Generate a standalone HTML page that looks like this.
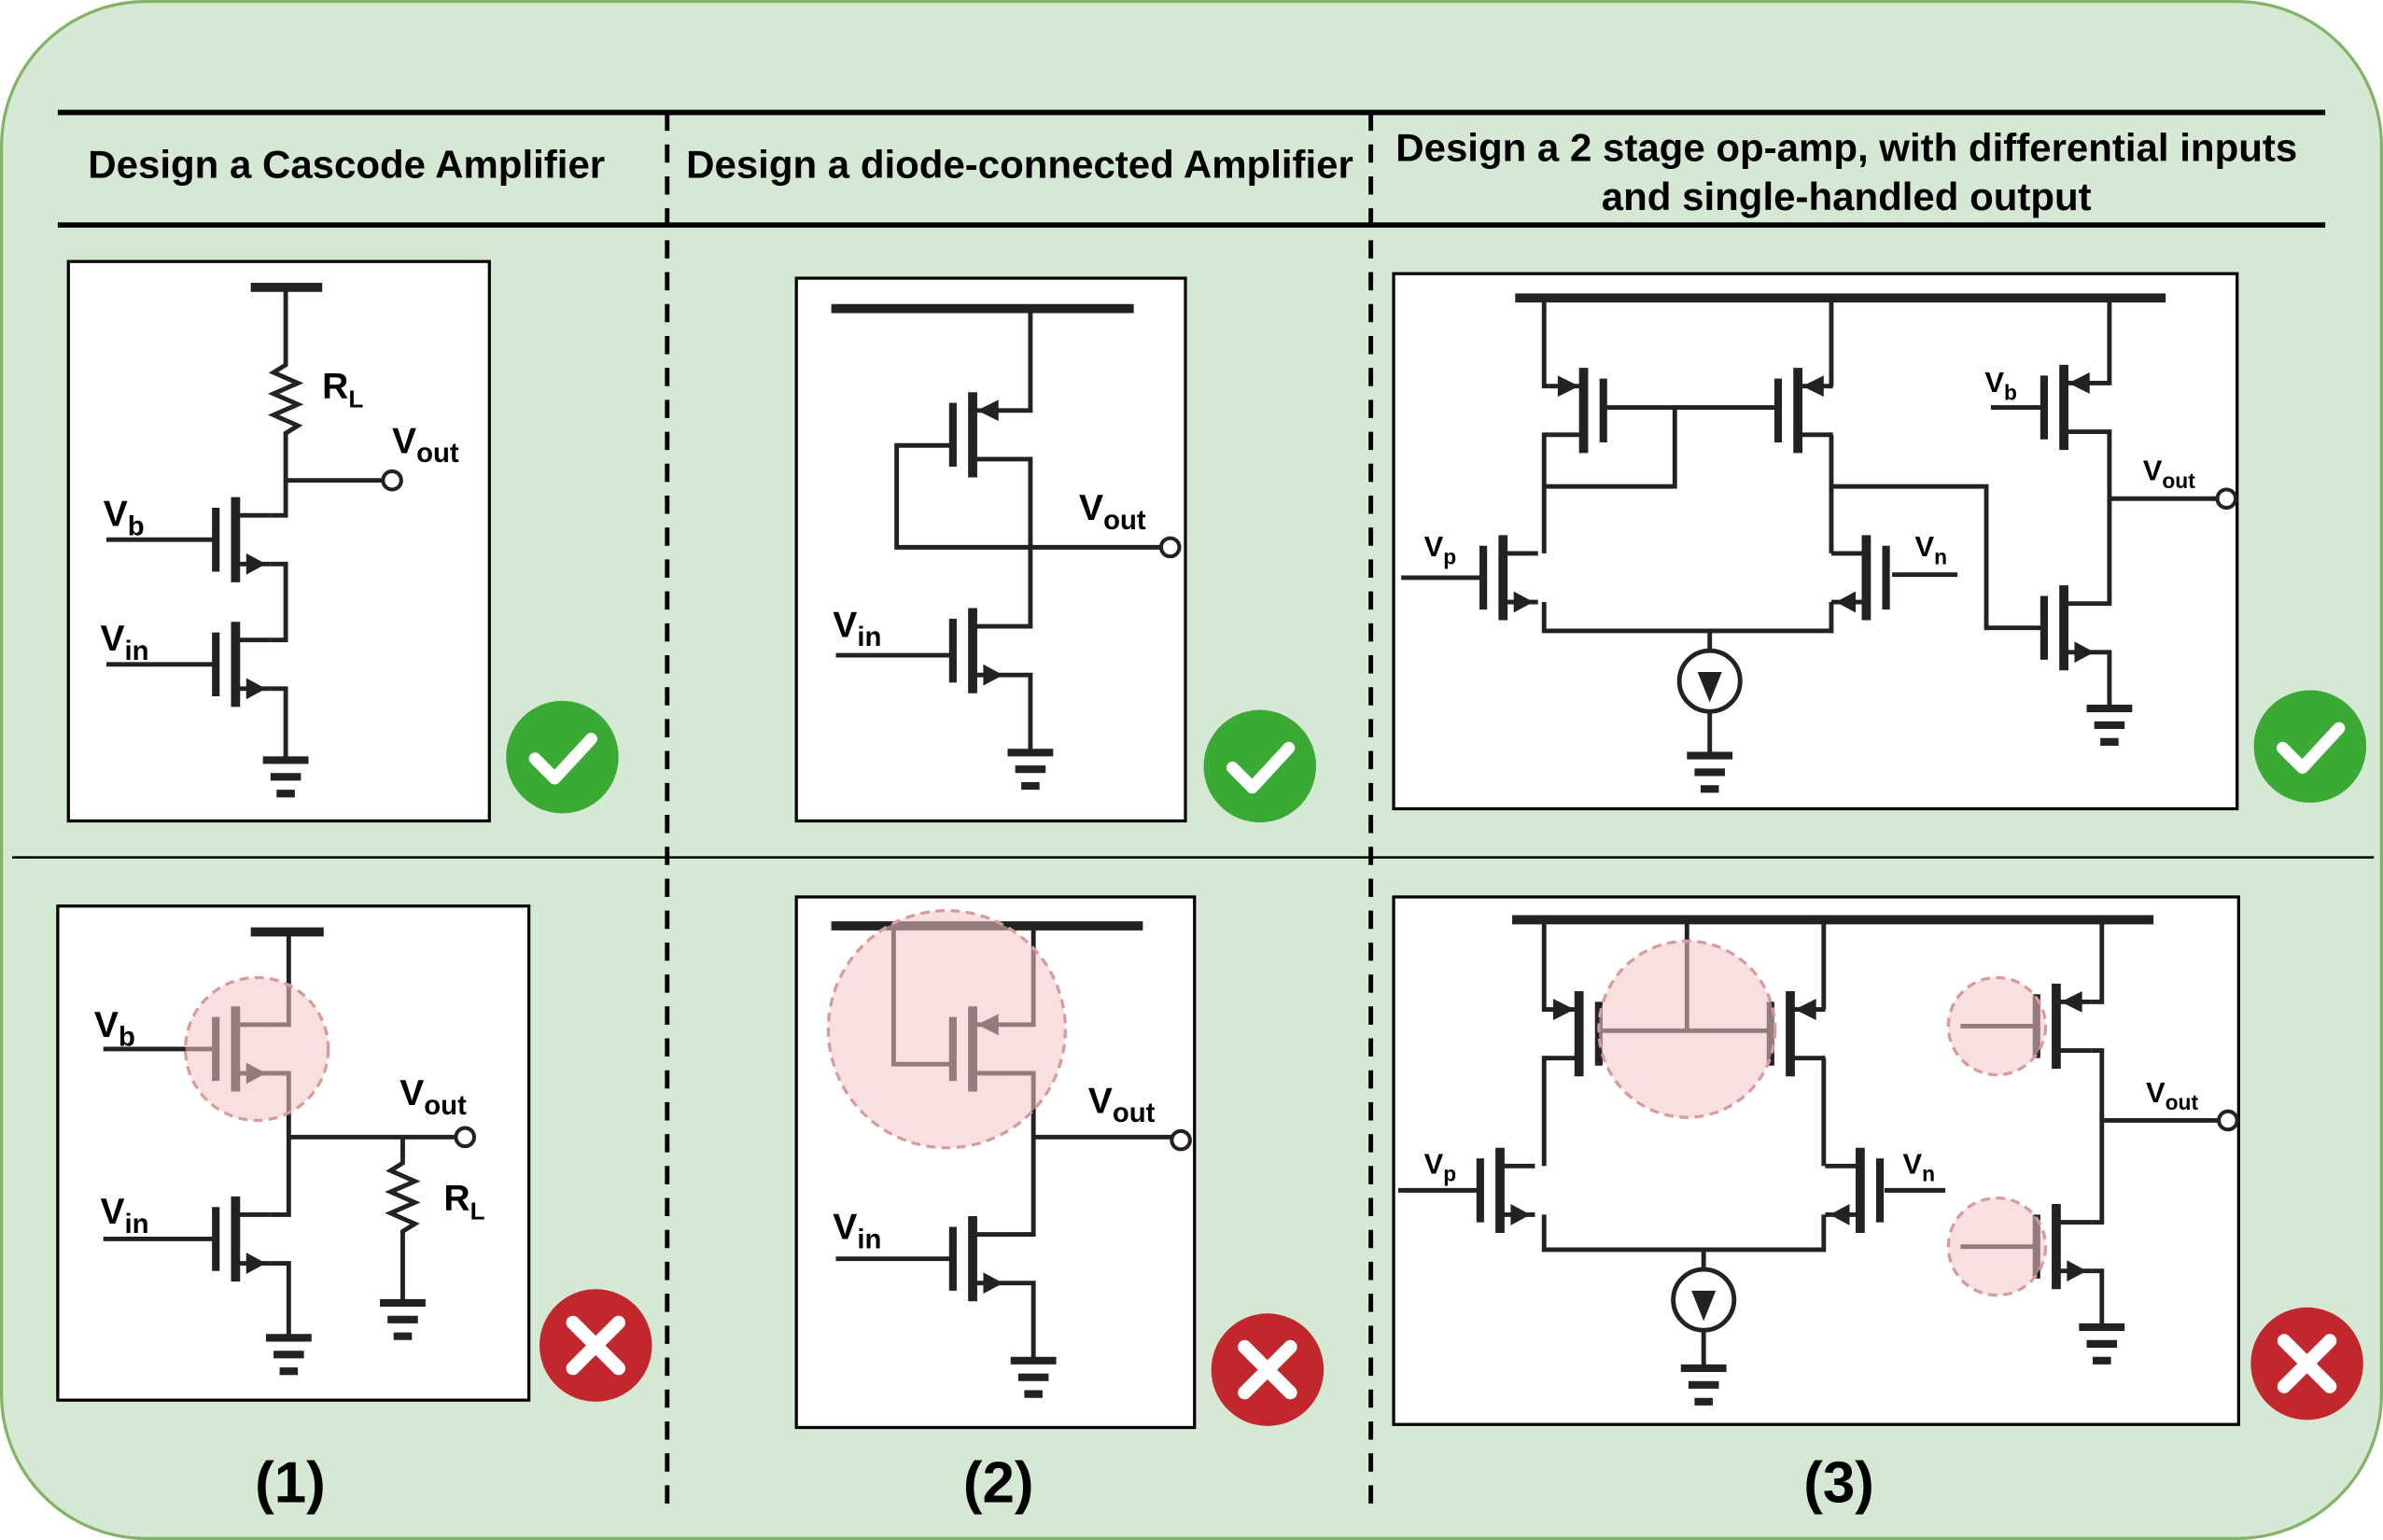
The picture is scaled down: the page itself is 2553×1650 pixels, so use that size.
<!DOCTYPE html>
<html><head><meta charset="utf-8"><style>
html,body{margin:0;padding:0;background:#fff}
svg{display:block}
text{font-family:"Liberation Sans",sans-serif;fill:#000}
</style></head><body>
<svg width="2553" height="1650" viewBox="0 0 1568 1013" preserveAspectRatio="none" xmlns="http://www.w3.org/2000/svg">
<defs>
<g id="nm">
<line x1="0" y1="-21" x2="0" y2="21" stroke="#222" stroke-width="5"/>
<line x1="13" y1="-28" x2="13" y2="28" stroke="#222" stroke-width="6"/>
<polyline points="13,-16 36,-16" fill="none" stroke="#222" stroke-width="3"/>
<polyline points="13,16 36,16" fill="none" stroke="#222" stroke-width="3"/>
<polygon points="20,9 33,16 20,23" fill="#222"/>
</g>
<g id="pm">
<line x1="0" y1="-21" x2="0" y2="21" stroke="#222" stroke-width="5"/>
<line x1="13" y1="-28" x2="13" y2="28" stroke="#222" stroke-width="6"/>
<polyline points="13,-16 36,-16" fill="none" stroke="#222" stroke-width="3"/>
<polyline points="13,16 36,16" fill="none" stroke="#222" stroke-width="3"/>
<polygon points="30,-23 16,-16 30,-9" fill="#222"/>
</g>
<g id="gnd" stroke="#222" stroke-width="5">
<line x1="-15" y1="0" x2="15" y2="0"/><line x1="-10" y1="11" x2="10" y2="11"/><line x1="-6" y1="22" x2="6" y2="22"/>
</g>
<g id="ok"><circle r="37" fill="#3aaa35"/><polyline points="-18,1 -5,14 19,-12" fill="none" stroke="#fff" stroke-width="8" stroke-linecap="round" stroke-linejoin="round"/></g>
<g id="no"><circle r="37" fill="#c1272d"/><g stroke="#fff" stroke-width="9" stroke-linecap="round"><line x1="-15" y1="-15" x2="15" y2="15"/><line x1="15" y1="-15" x2="-15" y2="15"/></g></g>
</defs>
<rect x="1" y="1" width="1566" height="1011" rx="95" fill="#d5e8d4" stroke="#82b366" stroke-width="2"/>
<g stroke="#000" stroke-width="3.5"><line x1="38" y1="74" x2="1530" y2="74"/><line x1="38" y1="148" x2="1530" y2="148"/></g>
<line x1="8" y1="564" x2="1562" y2="564" stroke="#000" stroke-width="1.5"/>
<g stroke="#000" stroke-width="3" stroke-dasharray="12,9"><line x1="439" y1="74" x2="439" y2="990"/><line x1="902" y1="74" x2="902" y2="990"/></g>
<g font-weight="bold" font-size="25.8" text-anchor="middle">
<text x="228" y="117">Design a Cascode Amplifier</text>
<text x="671" y="117">Design a diode-connected Amplifier</text>
<text x="1215" y="106">Design a 2 stage op-amp, with differential inputs</text>
<text x="1215" y="138">and single-handled output</text>
</g>
<g font-weight="bold" font-size="38" text-anchor="middle"><text x="191" y="988">(1)</text><text x="657" y="988">(2)</text><text x="1210" y="988">(3)</text></g>
<g fill="#fff" stroke="#000" stroke-width="2">
<rect x="45" y="172" width="277" height="368"/><rect x="524" y="183" width="256" height="357"/><rect x="917" y="180" width="555" height="352"/>
<rect x="38" y="596" width="310" height="325"/><rect x="524" y="590" width="262" height="349"/><rect x="917" y="590" width="556" height="347"/>
</g>
<use href="#ok" x="370" y="498"/><use href="#ok" x="829" y="504"/><use href="#ok" x="1520" y="491"/>
<use href="#no" x="392" y="885"/><use href="#no" x="834" y="901"/><use href="#no" x="1518" y="897"/>
<g fill="none" stroke="#222" stroke-width="3">
<line x1="165" y1="189" x2="212" y2="189" stroke-width="6"/>
<polyline points="188,189 188,240 180,245 196,252 180,259 196,266 180,273 196,280 188,285 188,339 178,339"/>
<line x1="188" y1="316" x2="254" y2="316"/>
<polyline points="178,371 188,371 188,421 178,421"/>
<polyline points="178,453 188,453 188,500"/>
<line x1="70" y1="355" x2="142" y2="355"/><line x1="70" y1="437" x2="142" y2="437"/>
<line x1="165" y1="613" x2="213" y2="613" stroke-width="6"/>
<polyline points="190,613 190,674 178,674"/>
<polyline points="178,706 190,706 190,799 178,799"/>
<line x1="190" y1="748" x2="300" y2="748"/>
<polyline points="178,831 190,831 190,880"/>
<polyline points="265,748 265,765 257,770 273,777 257,784 273,791 257,798 273,805 265,810 265,857"/>
<line x1="68" y1="690" x2="142" y2="690"/><line x1="68" y1="815" x2="142" y2="815"/>
<line x1="547" y1="203" x2="746" y2="203" stroke-width="6"/>
<polyline points="678,203 678,270 663,270"/>
<polyline points="663,302 678,302 678,412 663,412"/>
<polyline points="627,293 590,293 590,360 678,360"/>
<line x1="678" y1="360" x2="764" y2="360"/>
<polyline points="663,444 678,444 678,495"/>
<line x1="550" y1="431" x2="627" y2="431"/>
<line x1="547" y1="609" x2="752" y2="609" stroke-width="6"/>
<polyline points="588,609 588,700 627,700"/>
<polyline points="680,609 680,674 663,674"/>
<polyline points="663,706 680,706 680,812 663,812"/>
<line x1="680" y1="748" x2="771" y2="748"/>
<polyline points="663,844 680,844 680,895"/>
<line x1="550" y1="828" x2="627" y2="828"/>
<line x1="997" y1="196" x2="1425" y2="196" stroke-width="6"/>
<polyline points="1016,196 1016,254 1019,254"/><polyline points="1019,286 1016,286 1016,364"/>
<polyline points="1205,196 1205,254 1206,254"/><polyline points="1206,286 1205,286 1205,364"/>
<line x1="1056" y1="268" x2="1170" y2="268"/>
<polyline points="1102,268 1102,320 1016,320"/>
<polyline points="1205,320 1307,320 1307,413 1345,413"/>
<polyline points="1388,196 1388,252 1381,252"/><polyline points="1381,284 1388,284 1388,397 1381,397"/>
<polyline points="1381,429 1388,429 1388,466"/>
<line x1="1310" y1="268" x2="1345" y2="268"/>
<line x1="1388" y1="328" x2="1459" y2="328"/>
<polyline points="1016,396 1016,415 1205,415 1205,396"/>
<line x1="922" y1="380" x2="976" y2="380"/><line x1="1245" y1="378" x2="1288" y2="378"/>
<polyline points="1125,415 1125,428"/><circle cx="1125" cy="448" r="20"/><line x1="1125" y1="468" x2="1125" y2="497"/>
<line x1="995" y1="605" x2="1417" y2="605" stroke-width="6"/>
<polyline points="1016,605 1016,664 1019,664"/><polyline points="1019,696 1016,696 1016,767"/>
<polyline points="1200,605 1200,664 1201,664"/><polyline points="1201,696 1200,696 1200,767"/>
<line x1="1052" y1="678" x2="1165" y2="678"/><line x1="1110" y1="605" x2="1110" y2="678"/>
<polyline points="1016,799 1016,822 1200,822 1200,799"/>
<line x1="920" y1="783" x2="974" y2="783"/><line x1="1240" y1="783" x2="1280" y2="783"/>
<polyline points="1383,605 1383,659 1376,659"/><polyline points="1376,691 1383,691 1383,804 1376,804"/>
<polyline points="1376,836 1383,836 1383,873"/>
<line x1="1383" y1="737" x2="1460" y2="737"/>
<line x1="1290" y1="675" x2="1340" y2="675"/><line x1="1290" y1="820" x2="1340" y2="820"/>
<line x1="1121" y1="822" x2="1121" y2="835"/><circle cx="1121" cy="855" r="20"/><line x1="1121" y1="875" x2="1121" y2="900"/>
</g>
<g fill="#fff" stroke="#222" stroke-width="2.5">
<circle cx="258" cy="316" r="6"/><circle cx="306" cy="748" r="6"/><circle cx="770" cy="360" r="6"/><circle cx="777" cy="750" r="6"/><circle cx="1465" cy="328" r="6"/><circle cx="1466" cy="737" r="6"/>
</g>
<g fill="#222"><polygon points="1117,442 1133,442 1125,462"/><polygon points="1113,849 1129,849 1121,869"/></g>
<use href="#nm" x="142" y="355"/><use href="#nm" x="142" y="437"/>
<use href="#nm" x="142" y="690"/><use href="#nm" x="142" y="815"/>
<use href="#pm" x="627" y="286"/><use href="#nm" x="627" y="428"/>
<use href="#pm" x="627" y="690"/><use href="#nm" x="627" y="828"/>
<use href="#pm" transform="translate(1055,270) scale(-1,1)"/><use href="#pm" x="1170" y="270"/>
<use href="#nm" x="976" y="380"/><use href="#nm" transform="translate(1241,380) scale(-1,1)"/>
<use href="#pm" x="1345" y="268"/><use href="#nm" x="1345" y="413"/>
<use href="#pm" transform="translate(1052,680) scale(-1,1)"/><use href="#pm" x="1165" y="680"/>
<use href="#nm" x="974" y="783"/><use href="#nm" transform="translate(1237,783) scale(-1,1)"/>
<use href="#pm" x="1340" y="675"/><use href="#nm" x="1340" y="820"/>
<use href="#gnd" x="188" y="500"/><use href="#gnd" x="190" y="880"/><use href="#gnd" x="265" y="857"/>
<use href="#gnd" x="678" y="495"/><use href="#gnd" x="680" y="895"/>
<use href="#gnd" x="1125" y="497"/><use href="#gnd" x="1388" y="466"/><use href="#gnd" x="1121" y="900"/><use href="#gnd" x="1383" y="873"/>
<g fill="#f4c7c7" fill-opacity="0.55" stroke="#d99a9a" stroke-width="2" stroke-dasharray="6,4">
<circle cx="169" cy="690" r="47"/><circle cx="623" cy="677" r="78"/><circle cx="1110" cy="677" r="58"/><circle cx="1314" cy="675" r="32"/><circle cx="1314" cy="820" r="32"/>
</g>
<g font-size="24" font-weight="bold">
<text x="68" y="346">V<tspan font-size="18" dy="6">b</tspan></text>
<text x="66" y="428">V<tspan font-size="18" dy="6">in</tspan></text>
<text x="212" y="262">R<tspan font-size="16" dy="6">L</tspan></text>
<text x="258" y="298">V<tspan font-size="18" dy="6">out</tspan></text>
<text x="62" y="682">V<tspan font-size="18" dy="6">b</tspan></text>
<text x="66" y="805">V<tspan font-size="18" dy="6">in</tspan></text>
<text x="263" y="727">V<tspan font-size="18" dy="6">out</tspan></text>
<text x="292" y="796">R<tspan font-size="16" dy="6">L</tspan></text>
<text x="710" y="342">V<tspan font-size="18" dy="6">out</tspan></text>
<text x="548" y="419">V<tspan font-size="18" dy="6">in</tspan></text>
<text x="716" y="732">V<tspan font-size="18" dy="6">out</tspan></text>
<text x="548" y="815">V<tspan font-size="18" dy="6">in</tspan></text>
</g>
<g font-size="19" font-weight="bold">
<text x="937" y="366">V<tspan font-size="14" dy="5">p</tspan></text>
<text x="1260" y="366">V<tspan font-size="14" dy="5">n</tspan></text>
<text x="1306" y="258">V<tspan font-size="14" dy="5">b</tspan></text>
<text x="1410" y="316">V<tspan font-size="14" dy="5">out</tspan></text>
<text x="937" y="772">V<tspan font-size="14" dy="5">p</tspan></text>
<text x="1252" y="772">V<tspan font-size="14" dy="5">n</tspan></text>
<text x="1412" y="725">V<tspan font-size="14" dy="5">out</tspan></text>
</g>
</svg>
</body></html>
